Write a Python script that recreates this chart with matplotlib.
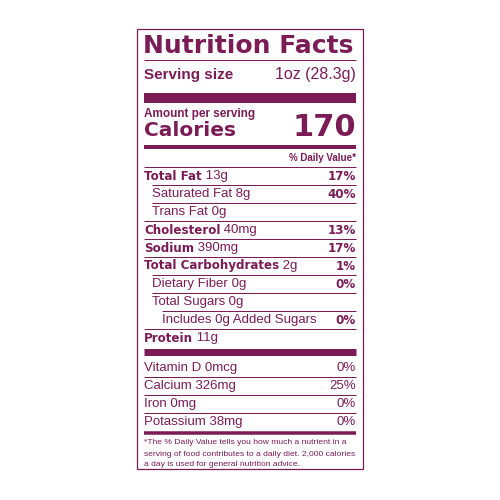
import matplotlib
matplotlib.use("Agg")
import matplotlib.pyplot as plt

C = "#7b1c57"
F = "Liberation Sans"
FB = "DejaVu Sans"

title = "Nutrition Facts"
serving = ("Serving size", "1oz (28.3g)")
calories = "170"
nutrients = [  # label, amount, dv, bold, indent
    ("Total Fat", "13g", "17%", True, 0),
    ("Saturated Fat", "8g", "40%", False, 1),
    ("Trans Fat", "0g", "", False, 1),
    ("Cholesterol", "40mg", "13%", True, 0),
    ("Sodium", "390mg", "17%", True, 0),
    ("Total Carbohydrates", "2g", "1%", True, 0),
    ("Dietary Fiber", "0g", "0%", False, 1),
    ("Total Sugars", "0g", "", False, 1),
    ("Includes 0g Added Sugars", "", "0%", False, 2),
    ("Protein", "11g", "", True, 0),
]
vitamins = [("Vitamin D", "0mcg", "0%"), ("Calcium", "326mg", "25%"),
            ("Iron", "0mg", "0%"), ("Potassium", "38mg", "0%")]
footnote = ["*The % Daily Value tells you how much a nutrient in a",
            "serving of food contributes to a daily diet. 2,000 calories",
            "a day is used for general nutrition advice."]

fig = plt.figure(figsize=(5, 5), dpi=100)
ax = fig.add_axes([0, 0, 1, 1])
ax.set_xlim(0, 500); ax.set_ylim(500, 0); ax.axis("off")
L, R = 144, 356

def hline(y, lw, x0=L):
    ax.plot([x0, R], [y, y], color=C, lw=lw * 0.72, solid_capstyle="butt")

ax.add_patch(plt.Rectangle((137, 29), 226, 440, fill=False, ec=C, lw=0.9))
ax.text(L - 1, 46, title, color=C, fontsize=18, fontweight="bold", family=FB, va="center")
hline(60, 1)
ax.text(L, 75, serving[0], color=C, fontsize=11, family=F, fontweight="bold", va="center")
ax.text(R, 75, serving[1], color=C, fontsize=11.5, family=F, va="center", ha="right")
hline(98, 10)
ax.text(L, 114, "Amount per serving", color=C, fontsize=8.5, family=F, fontweight="bold", va="center")
ax.text(L, 131, "Calories", color=C, fontsize=14.5, family=FB, fontweight="bold", va="center")
ax.text(R, 128, calories, color=C, fontsize=22, family=FB, fontweight="bold", va="center", ha="right")
hline(147, 4)
ax.text(R, 158, "% Daily Value*", color=C, fontsize=7, family=F, fontweight="bold", va="center", ha="right")
hline(167, 1)

y = 176
for i, (lab, amt, dv, b, ind) in enumerate(nutrients):
    x = L + [0, 8, 18][ind]
    if b:
        t = ax.text(x, y, lab, color=C, fontsize=8.6, family=FB, fontweight="bold", va="center")
    else:
        t = ax.text(x, y, lab, color=C, fontsize=9.5, family=F, va="center")
    if amt:
        ax.annotate(" " + amt, xycoords=t, xy=(1, 0.5), va="center", color=C, fontsize=9.5, family=F)
    if dv:
        ax.text(R, y, dv, color=C, fontsize=8.6, family=FB, fontweight="bold", va="center", ha="right")
    if i < len(nutrients) - 1:
        nxt = nutrients[i + 1][4]
        hline(y + 9, 1, L if nxt == 0 else L + [0, 8, 18][nxt])
    y += 18
hline(352, 7)
y = 368
for i, (lab, amt, dv) in enumerate(vitamins):
    ax.text(L, y, f"{lab} {amt}", color=C, fontsize=9.5, family=F, va="center")
    ax.text(R, y, dv, color=C, fontsize=9.5, family=F, va="center", ha="right")
    if i < len(vitamins) - 1:
        hline(y + 9, 1)
    y += 18
hline(433, 3.5)
for i, s in enumerate(footnote):
    ax.text(L, 443 + i * 11, s, color=C, fontsize=6.1, family=F, va="center")

fig.savefig("out.png", dpi=100, facecolor="white")
